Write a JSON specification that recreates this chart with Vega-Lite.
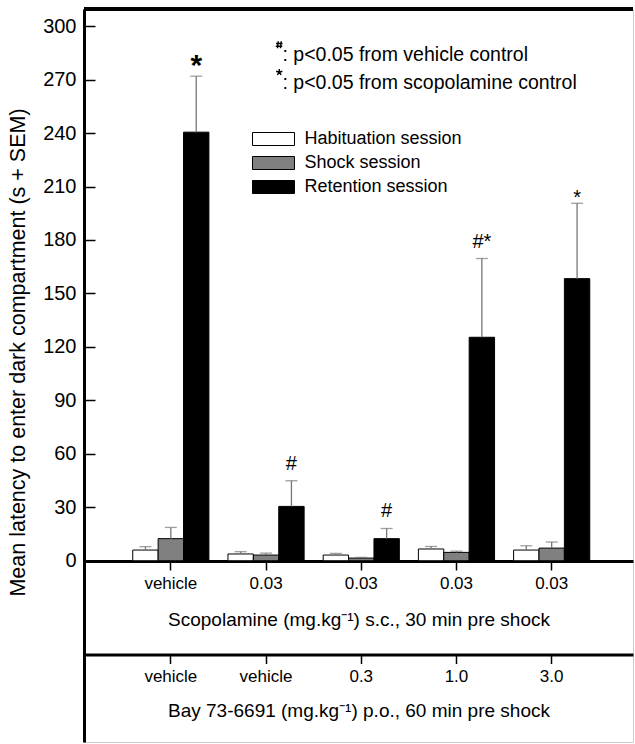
{
  "$schema": "https://vega.github.io/schema/vega-lite/v6.json",
  "width": 549,
  "height": 733,
  "autosize": {"type": "none"},
  "padding": {"left": 84, "top": 9, "right": 2, "bottom": 2},
  "config": {
    "font": "Liberation Sans",
    "view": {"stroke": "#cccccc", "strokeWidth": 1}
  },
  "data": {
    "values": [
      {"group": "vehicle / vehicle", "session": "Habituation session", "value": 6.0, "upper": 7.9, "marker": ""},
      {"group": "vehicle / vehicle", "session": "Shock session", "value": 12.4, "upper": 18.7, "marker": ""},
      {"group": "vehicle / vehicle", "session": "Retention session", "value": 240.5, "upper": 271.9, "marker": "*"},
      {"group": "0.03 / vehicle", "session": "Habituation session", "value": 3.8, "upper": 5.1, "marker": ""},
      {"group": "0.03 / vehicle", "session": "Shock session", "value": 3.2, "upper": 4.3, "marker": ""},
      {"group": "0.03 / vehicle", "session": "Retention session", "value": 30.5, "upper": 44.9, "marker": "#"},
      {"group": "0.03 / 0.3", "session": "Habituation session", "value": 3.2, "upper": 4.1, "marker": ""},
      {"group": "0.03 / 0.3", "session": "Shock session", "value": 1.5, "upper": 1.9, "marker": ""},
      {"group": "0.03 / 0.3", "session": "Retention session", "value": 12.4, "upper": 18.1, "marker": "#"},
      {"group": "0.03 / 1.0", "session": "Habituation session", "value": 6.6, "upper": 8.0, "marker": ""},
      {"group": "0.03 / 1.0", "session": "Shock session", "value": 4.7, "upper": 5.4, "marker": ""},
      {"group": "0.03 / 1.0", "session": "Retention session", "value": 125.4, "upper": 169.6, "marker": "#*"},
      {"group": "0.03 / 3.0", "session": "Habituation session", "value": 6.0, "upper": 8.4, "marker": ""},
      {"group": "0.03 / 3.0", "session": "Shock session", "value": 7.1, "upper": 10.5, "marker": ""},
      {"group": "0.03 / 3.0", "session": "Retention session", "value": 158.3, "upper": 200.6, "marker": "*"}
    ]
  },
  "resolve": {"axis": {"x": "independent", "y": "independent"}},
  "layer": [
    {
      "mark": {"type": "bar", "stroke": "black", "strokeWidth": 1},
      "encoding": {
        "x": {
          "field": "group", "type": "nominal", "sort": null,
          "scale": {"paddingInner": 0.2, "paddingOuter": 0.483, "align": 0.53},
          "axis": {
            "orient": "bottom", "offset": -181, "labelExpr": "split(datum.value, ' / ')[0]",
            "labelAngle": 0, "labelFontSize": 17, "labelColor": "black", "labelBaseline": "middle",
            "labelPadding": 13, "tickSize": 9, "tickWidth": 1.5, "tickColor": "black",
            "domainWidth": 3, "domainColor": "black", "grid": false,
            "title": "Scopolamine (mg.kg⁻¹) s.c., 30 min pre shock",
            "titleFontSize": 19, "titleFontWeight": "normal", "titleColor": "black",
            "titleBaseline": "middle", "titleY": 58, "titleX": 274.5
          }
        },
        "xOffset": {
          "field": "session", "type": "nominal",
          "sort": ["Habituation session", "Shock session", "Retention session"],
          "scale": {"paddingInner": 0, "paddingOuter": 0}
        },
        "y": {
          "field": "value", "type": "quantitative",
          "scale": {"domain": [-101.7, 309.6], "nice": false, "zero": false},
          "axis": {
            "orient": "left",
            "values": [0, 30, 60, 90, 120, 150, 180, 210, 240, 270, 300],
            "grid": false, "domainWidth": 3, "domainColor": "black",
            "tickColor": "black", "tickWidth": 1.5, "tickSize": -11, "labelPadding": 19,
            "labelFontSize": 20, "labelColor": "black",
            "title": "Mean latency to enter dark compartment (s + SEM)",
            "titleFontSize": 21.5, "titleFontWeight": "normal", "titleColor": "black",
            "titleX": -66, "titleY": 343, "titleBaseline": "middle", "titleAngle": -90
          }
        },
        "fill": {
          "field": "session", "type": "nominal",
          "scale": {
            "domain": ["Habituation session", "Shock session", "Retention session"],
            "range": ["white", "#808080", "black"]
          },
          "legend": {
            "orient": "none", "legendX": 180.5, "legendY": 121, "title": null,
            "symbolType": "M-3.23,-1H3.23V1H-3.23Z", "symbolSize": 169,
            "symbolStrokeColor": "black", "symbolStrokeWidth": 1,
            "labelFontSize": 18, "labelColor": "black", "labelOffset": 22, "labelLimit": 0,
            "rowPadding": 6, "padding": 0
          }
        }
      }
    },
    {
      "mark": {"type": "rule", "color": "#777777", "strokeWidth": 1.3},
      "encoding": {
        "x": {"field": "group", "type": "nominal", "sort": null, "axis": null},
        "xOffset": {"field": "session", "type": "nominal", "sort": ["Habituation session", "Shock session", "Retention session"]},
        "y": {"field": "value", "type": "quantitative", "axis": null},
        "y2": {"field": "upper"}
      }
    },
    {
      "mark": {"type": "tick", "color": "#777777", "thickness": 1.3, "size": 12, "orient": "horizontal"},
      "encoding": {
        "x": {"field": "group", "type": "nominal", "sort": null, "axis": null},
        "xOffset": {"field": "session", "type": "nominal", "sort": ["Habituation session", "Shock session", "Retention session"]},
        "y": {"field": "upper", "type": "quantitative", "axis": null}
      }
    },
    {
      "transform": [{"filter": "datum.group === 'vehicle / vehicle' && datum.marker !== ''"}],
      "mark": {"type": "text", "fontSize": 30, "fontWeight": "bold", "baseline": "alphabetic", "dy": -1, "color": "black"},
      "encoding": {
        "x": {"field": "group", "type": "nominal", "sort": null, "axis": null},
        "xOffset": {"field": "session", "type": "nominal", "sort": ["Habituation session", "Shock session", "Retention session"]},
        "y": {"field": "upper", "type": "quantitative", "axis": null},
        "text": {"field": "marker"}
      }
    },
    {
      "transform": [{"filter": "datum.marker === '*' && datum.group !== 'vehicle / vehicle'"}],
      "mark": {"type": "text", "fontSize": 20, "baseline": "alphabetic", "dy": 1, "color": "black"},
      "encoding": {
        "x": {"field": "group", "type": "nominal", "sort": null, "axis": null},
        "xOffset": {"field": "session", "type": "nominal", "sort": ["Habituation session", "Shock session", "Retention session"]},
        "y": {"field": "upper", "type": "quantitative", "axis": null},
        "text": {"field": "marker"}
      }
    },
    {
      "transform": [{"filter": "indexof(datum.marker, '#') >= 0"}],
      "mark": {"type": "text", "fontSize": 20, "baseline": "alphabetic", "dy": -11, "color": "black"},
      "encoding": {
        "x": {"field": "group", "type": "nominal", "sort": null, "axis": null},
        "xOffset": {"field": "session", "type": "nominal", "sort": ["Habituation session", "Shock session", "Retention session"]},
        "y": {"field": "upper", "type": "quantitative", "axis": null},
        "text": {"field": "marker"}
      }
    },
    {
      "mark": {"type": "rule", "color": "black", "strokeWidth": 3},
      "encoding": {"y": {"datum": 309.6, "type": "quantitative", "axis": null}}
    },
    {
      "mark": {"type": "point", "opacity": 0},
      "encoding": {
        "x": {
          "field": "group", "type": "nominal", "sort": null,
          "axis": {
            "orient": "bottom", "offset": -87.5, "labelExpr": "split(datum.value, ' / ')[1]",
            "labelAngle": 0, "labelFontSize": 17, "labelColor": "black", "labelBaseline": "middle",
            "labelPadding": 13, "tickSize": 9, "tickWidth": 1.5, "tickColor": "black",
            "domainWidth": 3, "domainColor": "black", "grid": false,
            "title": "Bay 73-6691 (mg.kg⁻¹) p.o., 60 min pre shock",
            "titleFontSize": 19, "titleFontWeight": "normal", "titleColor": "black",
            "titleBaseline": "middle", "titleY": 56, "titleX": 274.5
          }
        }
      }
    },
    {
      "data": {"values": [
        {"note": ": p<0.05 from vehicle control"},
        {"note": ": p<0.05 from scopolamine control"}
      ]},
      "mark": {"type": "point", "opacity": 0, "filled": false, "color": "black", "strokeWidth": 1.4},
      "encoding": {
        "shape": {
          "field": "note", "type": "nominal",
          "scale": {
            "domain": [": p<0.05 from vehicle control", ": p<0.05 from scopolamine control"],
            "range": [
              "M-0.2,-2.8L-0.35,-1.4M0.4,-2.8L0.25,-1.4M-0.65,-2.35H0.65M-0.7,-1.8H0.6",
              "M0,-2.2L0,-2.85M0,-2.2L0.62,-2.4M0,-2.2L-0.62,-2.4M0,-2.2L0.38,-1.67M0,-2.2L-0.38,-1.67"
            ]
          },
          "legend": {
            "orient": "none", "legendX": 185.5, "legendY": 36.5, "title": null,
            "symbolSize": 100, "symbolStrokeColor": "black", "symbolStrokeWidth": 1.4,
            "symbolFillColor": "transparent", "symbolOpacity": 1,
            "labelFontSize": 19.5, "labelColor": "black", "labelOffset": -6.5, "labelLimit": 0,
            "rowPadding": 0, "padding": 0,
            "encode": {"symbols": {"update": {"opacity": {"value": 1}, "stroke": {"value": "black"}}}}
          }
        }
      }
    }
  ]
}
